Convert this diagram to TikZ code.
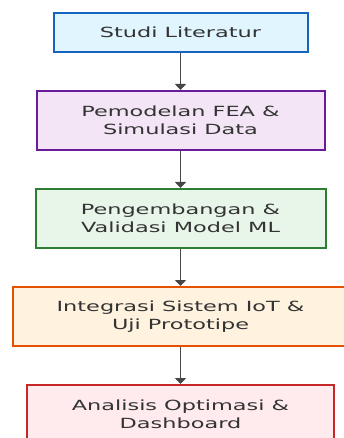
\documentclass[tikz,border=0pt]{standalone}
\usepackage{fontspec}
\setmainfont[FakeStretch=1.6]{DejaVu Sans}
\usetikzlibrary{arrows.meta}
\usetikzlibrary{positioning}
\definecolor{textgray}{RGB}{51,51,51}
\definecolor{linegray}{RGB}{70,70,70}
\definecolor{litblue}{RGB}{225,245,254}
\definecolor{litblueline}{RGB}{21,101,192}
\definecolor{femviolet}{RGB}{243,229,245}
\definecolor{femvioletline}{RGB}{106,27,154}
\definecolor{mlgreen}{RGB}{232,245,233}
\definecolor{mlgreenline}{RGB}{46,125,50}
\definecolor{iotorange}{RGB}{255,243,224}
\definecolor{iotorangeline}{RGB}{230,81,0}
\definecolor{dashred}{RGB}{255,235,238}
\definecolor{dashredline}{RGB}{198,40,40}

\tikzset{
  stage/.style={draw, line width=2pt, minimum height=59pt, align=center,
    text=textgray, font=\fontsize{14}{18.5}\selectfont, inner sep=0pt},
  flow/.style={-{Triangle[length=6pt,width=11pt]}, linegray, line width=1.6pt},
}

\begin{document}
\begin{tikzpicture}[node distance=37pt]

% page size
\useasboundingbox (0,0) rectangle (343pt,-438pt);

%% stages
\node [stage,fill=litblue,draw=litblueline,minimum width=254pt,minimum height=39pt] (studi) at (180.5pt,-32.5pt) {Studi Literatur};
\node [stage,fill=femviolet,draw=femvioletline,minimum width=288pt,below=of studi] (fea) {Pemodelan FEA \&\\ Simulasi Data};
\node [stage,fill=mlgreen,draw=mlgreenline,minimum width=290pt,below=of fea] (ml) {Pengembangan \&\\ Validasi Model ML};
\node [stage,fill=iotorange,draw=iotorangeline,minimum width=336pt,below=of ml] (iot) {Integrasi Sistem IoT \&\\ Uji Prototipe};
\node [stage,fill=dashred,draw=dashredline,minimum width=307pt,below=of iot] (dash) {Analisis Optimasi \&\\ Dashboard};

%% arrows
\draw [flow] (studi) -- (fea);
\draw [flow] (fea) -- (ml);
\draw [flow] (ml) -- (iot);
\draw [flow] (iot) -- (dash);

\end{tikzpicture}
\end{document}
